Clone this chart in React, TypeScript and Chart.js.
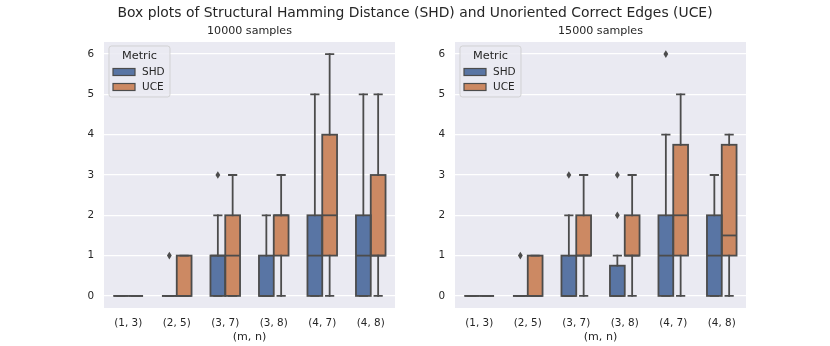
import React, { useEffect, useRef } from 'react';
import { Chart, registerables } from 'chart.js';

Chart.register(...registerables);

const categories = ['(1, 3)', '(2, 5)', '(3, 7)', '(3, 8)', '(4, 7)', '(4, 8)'];
const metrics = ['SHD', 'UCE'];
const yTickValues = [0, 1, 2, 3, 4, 5, 6];

// each entry: [lower whisker, q1, median, q3, upper whisker]
const shd10000 = [[0, 0, 0, 0, 0], [0, 0, 0, 0, 0], [0, 0, 1, 1, 2], [0, 0, 0, 1, 2], [0, 0, 1, 2, 5], [0, 0, 1, 2, 5]];
const uce10000 = [[0, 0, 0, 0, 0], [0, 0, 0, 1, 1], [0, 0, 1, 2, 3], [0, 1, 2, 2, 3], [0, 1, 2, 4, 6], [0, 1, 1, 3, 5]];
const shd10000Outliers = [[], [1], [3], [], [], []];
const uce10000Outliers = [[], [], [], [], [], []];

const shd15000 = [[0, 0, 0, 0, 0], [0, 0, 0, 0, 0], [0, 0, 0, 1, 2], [0, 0, 0, 0.75, 1], [0, 0, 1, 2, 4], [0, 0, 1, 2, 3]];
const uce15000 = [[0, 0, 0, 0, 0], [0, 0, 0, 1, 1], [0, 1, 1, 2, 3], [0, 1, 1, 2, 3], [0, 1, 2, 3.75, 5], [0, 1, 1.5, 3.75, 4]];
const shd15000Outliers = [[], [1], [3], [2, 3], [6], []];
const uce15000Outliers = [[], [], [], [], [], []];

const FONT = "'DejaVu Sans', sans-serif";
const TEXT = '#262626';
const LINE = '#4c4c4c';
const BG = '#eaeaf2';
const SHD_COLOR = '#5975a4';
const UCE_COLOR = '#cc8963';
const LW = 1.8;

const boxPlugin = {
  id: 'boxDetails',
  beforeDraw(chart: any) {
    const { ctx, chartArea: a } = chart;
    ctx.save();
    ctx.fillStyle = BG;
    ctx.fillRect(a.left, a.top, a.right - a.left, a.bottom - a.top);
    ctx.restore();
  },
  afterDatasetsDraw(chart: any) {
    const { ctx } = chart;
    const y = chart.scales.y;
    ctx.save();
    ctx.strokeStyle = LINE;
    ctx.fillStyle = LINE;
    ctx.lineWidth = LW;
    chart.data.datasets.forEach((ds: any, i: number) => {
      const meta = chart.getDatasetMeta(i);
      meta.data.forEach((bar: any, j: number) => {
        const [lo, q1, med, q3, hi] = ds.stats[j];
        const x = bar.x;
        const w = bar.width;
        const pLo = y.getPixelForValue(lo);
        const pQ1 = y.getPixelForValue(q1);
        const pMed = y.getPixelForValue(med);
        const pQ3 = y.getPixelForValue(q3);
        const pHi = y.getPixelForValue(hi);
        // whiskers and caps
        ctx.lineCap = 'square';
        ctx.beginPath();
        if (lo !== q1) {
          ctx.moveTo(x, pQ1);
          ctx.lineTo(x, pLo);
        }
        if (hi !== q3) {
          ctx.moveTo(x, pQ3);
          ctx.lineTo(x, pHi);
        }
        ctx.stroke();
        ctx.beginPath();
        ctx.moveTo(x - w / 4, pLo);
        ctx.lineTo(x + w / 4, pLo);
        ctx.moveTo(x - w / 4, pHi);
        ctx.lineTo(x + w / 4, pHi);
        ctx.stroke();
        // box outline
        ctx.lineCap = 'butt';
        ctx.lineJoin = 'miter';
        ctx.strokeRect(x - w / 2, pQ3, w, pQ1 - pQ3);
        // median
        ctx.beginPath();
        ctx.moveTo(x - w / 2, pMed);
        ctx.lineTo(x + w / 2, pMed);
        ctx.stroke();
        // outliers
        (ds.outliers[j] || []).forEach((v: number) => {
          const py = y.getPixelForValue(v);
          ctx.beginPath();
          ctx.moveTo(x, py - 3.8);
          ctx.lineTo(x + 2.4, py);
          ctx.lineTo(x, py + 3.8);
          ctx.lineTo(x - 2.4, py);
          ctx.closePath();
          ctx.fill();
        });
      });
    });
    ctx.restore();
  },
  afterDraw(chart: any, _args: any, opts: any) {
    const { ctx, chartArea: a } = chart;
    ctx.save();
    // subtitle
    ctx.fillStyle = TEXT;
    ctx.font = `11.1px ${FONT}`;
    ctx.textAlign = 'center';
    ctx.textBaseline = 'middle';
    ctx.fillText(opts.subtitle, (a.left + a.right) / 2, a.top - 11);
    // legend frame
    const lx = a.left + 5;
    const ly = a.top + 4;
    const lw = 61;
    const lh = 51;
    const r = 2.5;
    ctx.beginPath();
    ctx.moveTo(lx + r, ly);
    ctx.lineTo(lx + lw - r, ly);
    ctx.arcTo(lx + lw, ly, lx + lw, ly + r, r);
    ctx.lineTo(lx + lw, ly + lh - r);
    ctx.arcTo(lx + lw, ly + lh, lx + lw - r, ly + lh, r);
    ctx.lineTo(lx + r, ly + lh);
    ctx.arcTo(lx, ly + lh, lx, ly + lh - r, r);
    ctx.lineTo(lx, ly + r);
    ctx.arcTo(lx, ly, lx + r, ly, r);
    ctx.closePath();
    ctx.fillStyle = 'rgba(234,234,242,0.85)';
    ctx.fill();
    ctx.strokeStyle = 'rgba(204,204,204,0.8)';
    ctx.lineWidth = 1;
    ctx.stroke();
    ctx.fillStyle = TEXT;
    ctx.font = `11.3px ${FONT}`;
    ctx.textAlign = 'center';
    ctx.fillText('Metric', lx + lw / 2, ly + 10);
    chart.data.datasets.forEach((ds: any, i: number) => {
      const cy = ly + 26 + i * 15;
      ctx.fillStyle = ds.backgroundColor;
      ctx.fillRect(lx + 4, cy - 3.5, 22, 7);
      ctx.strokeStyle = LINE;
      ctx.lineWidth = 1.2;
      ctx.strokeRect(lx + 4, cy - 3.5, 22, 7);
      ctx.fillStyle = TEXT;
      ctx.font = `10.5px ${FONT}`;
      ctx.textAlign = 'left';
      ctx.fillText(ds.label, lx + 33, cy);
    });
    ctx.restore();
  },
};

function BoxChart(props: any) {
  const { subtitle, shd, uce, shdOut, uceOut, padLeft, padRight, left } = props;
  const ref = useRef<HTMLCanvasElement>(null);
  useEffect(() => {
    const chart = new Chart(ref.current as HTMLCanvasElement, {
      type: 'bar',
      data: {
        labels: categories,
        datasets: [
          {
            label: metrics[0],
            data: shd.map((s: number[]) => [s[1], s[3]]),
            backgroundColor: SHD_COLOR,
            borderWidth: 0,
            stats: shd,
            outliers: shdOut,
          } as any,
          {
            label: metrics[1],
            data: uce.map((s: number[]) => [s[1], s[3]]),
            backgroundColor: UCE_COLOR,
            borderWidth: 0,
            stats: uce,
            outliers: uceOut,
          } as any,
        ],
      },
      options: {
        animation: false,
        responsive: false,
        maintainAspectRatio: false,
        layout: { padding: { left: padLeft, right: padRight, top: 42, bottom: 0 } },
        datasets: { bar: { categoryPercentage: 0.61, barPercentage: 1 } },
        plugins: {
          legend: { display: false },
          tooltip: { enabled: false },
          boxDetails: { subtitle },
        } as any,
        scales: {
          x: {
            grid: { display: false, drawTicks: false },
            border: { display: false },
            ticks: { color: TEXT, font: { family: FONT, size: 10.4 }, padding: 9 },
            title: {
              display: true,
              text: '(m, n)',
              color: TEXT,
              font: { family: FONT, size: 11.1 },
              padding: { top: 0, bottom: 2 },
            },
            afterFit: (s: any) => { s.height = 38; },
          },
          y: {
            min: -0.3,
            max: 6.3,
            afterBuildTicks: (s: any) => { s.ticks = yTickValues.map((v) => ({ value: v })); },
            grid: { color: '#ffffff', lineWidth: 1.2, drawTicks: false },
            border: { display: false },
            ticks: {
              color: TEXT,
              font: { family: FONT, size: 10.4 },
              padding: 10,
              callback: (v: any) => String(v),
            },
            afterFit: (s: any) => { s.width = 30; },
          },
        },
      },
      plugins: [boxPlugin],
    });
    return () => chart.destroy();
  }, []);
  return (
    <canvas
      ref={ref}
      width={415}
      height={346}
      style={{ position: 'absolute', left, top: 0, width: 415, height: 346 }}
    />
  );
}

export default function App() {
  return (
    <div style={{ position: 'absolute', left: 0, top: 0, width: 830, height: 346, background: '#ffffff', overflow: 'hidden' }}>
      <BoxChart subtitle="10000 samples" shd={shd10000} uce={uce10000} shdOut={shd10000Outliers} uceOut={uce10000Outliers} padLeft={74} padRight={20} left={0} />
      <BoxChart subtitle="15000 samples" shd={shd15000} uce={uce15000} shdOut={shd15000Outliers} uceOut={uce15000Outliers} padLeft={10} padRight={84} left={415} />
      <div
        style={{
          position: 'absolute',
          left: 0,
          top: 4,
          width: 830,
          textAlign: 'center',
          fontFamily: FONT,
          fontSize: 13.9,
          lineHeight: '16px',
          color: TEXT,
          whiteSpace: 'nowrap',
        }}
      >
        Box plots of Structural Hamming Distance (SHD) and Unoriented Correct Edges (UCE)
      </div>
    </div>
  );
}
